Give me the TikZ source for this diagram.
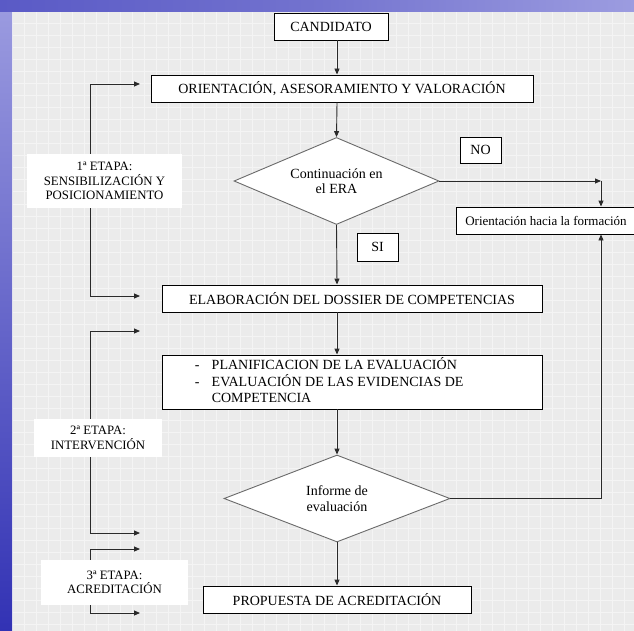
\documentclass[tikz,border=0pt]{standalone}
\usepackage{fontspec}
\setmainfont{Liberation Serif}
\usetikzlibrary{shapes.geometric,arrows.meta,calc}

\definecolor{paper}{HTML}{EBEBEB}
\definecolor{gridline}{HTML}{F4F4F4}
\definecolor{bluelight}{HTML}{9C9CE0}
\definecolor{bluemid}{HTML}{5A5AC6}
\definecolor{bluedark}{HTML}{3232B4}
\definecolor{wire}{HTML}{2A2A2A}
\definecolor{rim}{HTML}{6A6A6A}

\tikzset{
  box/.style={draw=black, line width=0.9pt, fill=white, inner sep=0pt,
              font=\fontsize{14}{16}\selectfont},
  decision/.style={diamond, aspect=2.4, draw=rim, line width=0.9pt, fill=white, inner sep=0pt,
              align=center, font=\fontsize{14}{15.5}\selectfont},
  stagelabel/.style={fill=white, inner sep=0pt, align=center,
              font=\fontsize{12.8}{14.5}\selectfont},
  flow/.style={draw=wire, line width=0.9pt, -{Triangle[length=6pt,width=5pt]}},
}

\begin{document}
\begin{tikzpicture}[x=1pt,y=-1pt]
\useasboundingbox (0,0) rectangle (634,631);
\clip (0,0) rectangle (634,631);

% backdrop: gridded sheet with a blue frame on the top and left edges
\fill[paper] (0,0) rectangle (634,631);
\foreach \g in {12,24,...,636} {
  \draw[gridline, line width=1pt] (\g,0) -- (\g,631);
  \draw[gridline, line width=1pt] (0,\g) -- (634,\g);
}
\shade[top color=bluelight, bottom color=bluedark] (0,0) rectangle (12,631);
\shade[left color=bluemid, right color=bluelight, middle color=bluemid!85!white] (0,0) rectangle (634,12);

% main column
\coordinate (spine) at (337,0);
\node[box, minimum width=114pt, minimum height=27pt] (cand) at (331,26.5) {CANDIDATO};
\node[box, minimum width=382pt, minimum height=27pt] (orient) at (342,88.5) {ORIENTACIÓN, ASESORAMIENTO Y VALORACIÓN};
\node[decision, minimum width=205pt, minimum height=87pt] (era) at (336.5,181) {Continuación en\\el ERA};
\node[box, minimum width=41pt, minimum height=26pt] (no) at (480.5,150) {NO};
\node[box, minimum width=41pt, minimum height=28pt] (si) at (377.5,247) {SI};
\node[box, minimum width=184pt, minimum height=27pt, font=\fontsize{13}{15}\selectfont] (form) at (548,220.5) {\hspace*{-4pt}Orientación hacia la formación};
\node[box, minimum width=380pt, minimum height=27pt] (dossier) at (352,298.5) {ELABORACIÓN DEL DOSSIER DE COMPETENCIAS};
\node[box, minimum width=380pt, minimum height=54pt] (plan) at (352,382) {};
\node[anchor=west, inner sep=0pt, font=\fontsize{14}{16}\selectfont] (plantext) at ($(plan.west)+(33,0)$)
  {\begin{tabular}{@{}p{17pt}@{}l@{}}
   - & PLANIFICACION DE LA EVALUACIÓN\\
   - & EVALUACIÓN DE LAS EVIDENCIAS DE\\
     & COMPETENCIA
   \end{tabular}};
\node[decision, aspect=2.6, minimum width=226pt, minimum height=87pt] (informe) at (337,498.5) {Informe de\\evaluación};
\node[box, minimum width=268pt, minimum height=27pt] (prop) at (337,599.5) {PROPUESTA DE ACREDITACIÓN};

\draw[flow] (cand.south -| spine) -- (orient.north -| spine);
\draw[flow] (orient.south -| spine) -- (era.north);
\draw[flow] (era.south) -- (dossier.north -| spine);
\draw[flow] (dossier.south -| spine) -- (plan.north -| spine);
\draw[flow] (plan.south -| spine) -- (informe.north);
\draw[flow] (informe.south) -- (prop.north -| spine);

% branch towards training
\coordinate (bend) at (601,181);
\draw[flow] (era.east) -- (bend);
\draw[flow] (bend) -- (form.north -| bend);
\draw[flow] (informe.east) -| (form.south -| bend);

% stage labels and their brackets on the left
\node[stagelabel, minimum width=155pt, minimum height=54pt] (etapa1) at (104.5,181)
  {1ª ETAPA:\\SENSIBILIZACIÓN Y\\POSICIONAMIENTO};
\node[stagelabel, minimum width=128pt, minimum height=38pt] (etapa2) at (98,438)
  {2ª ETAPA:\\INTERVENCIÓN};
\node[stagelabel, minimum width=147pt, minimum height=45pt] (etapa3) at (114.5,582.5)
  {3ª ETAPA:\\ACREDITACIÓN};

\coordinate (rail) at (90,0);
\coordinate (s1top) at (140,84);
\coordinate (s1bot) at (140,296);
\coordinate (s2top) at (140,331);
\coordinate (s2bot) at (140,533);
\coordinate (s3top) at (140,549);
\coordinate (s3bot) at (140,613);

\draw[flow] (etapa1.north -| rail) |- (s1top);
\draw[flow] (etapa1.south -| rail) |- (s1bot);
\draw[flow] (etapa2.north -| rail) |- (s2top);
\draw[flow] (etapa2.south -| rail) |- (s2bot);
\draw[flow] (etapa3.north -| rail) |- (s3top);
\draw[flow] (etapa3.south -| rail) |- (s3bot);
\end{tikzpicture}
\end{document}
